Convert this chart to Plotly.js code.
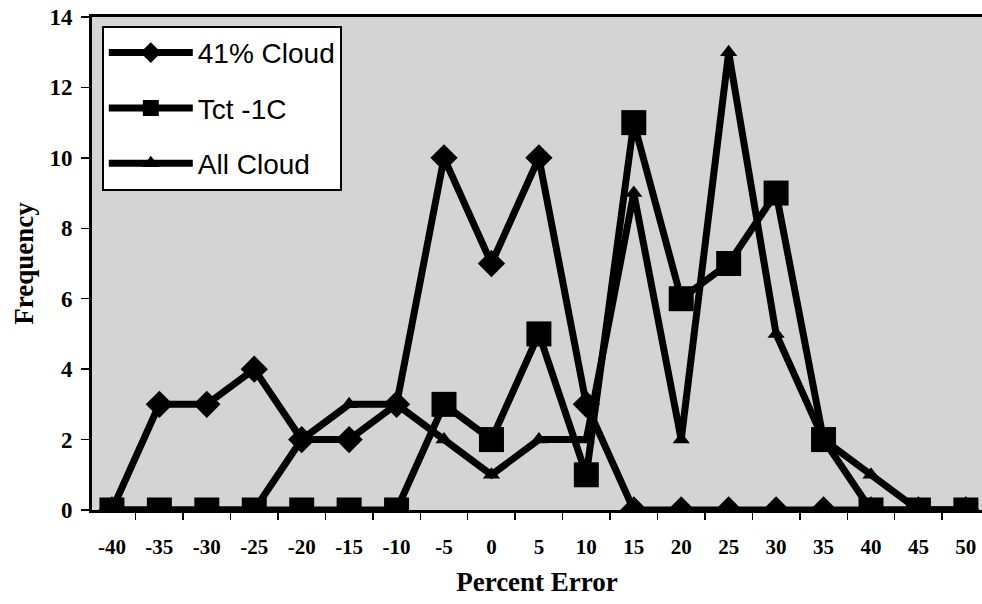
<!DOCTYPE html>
<html>
<head>
<meta charset="utf-8">
<script src="https://cdn.plot.ly/plotly-3.0.1.min.js"></script>
<style>html,body{margin:0;padding:0;background:#fff;}#chart{width:982px;height:604px;}</style>
</head>
<body>
<div id="chart"></div>
<script>
const percentError = [-40,-35,-30,-25,-20,-15,-10,-5,0,5,10,15,20,25,30,35,40,45,50];
const cloud41 = [0,3,3,4,2,2,3,10,7,10,3,0,0,0,0,0,0,0,0];
const tct1C   = [0,0,0,0,0,0,0,3,2,5,1,11,6,7,9,2,0,0,0];
const allCloud= [0,0,0,0,2,3,3,2,1,2,2,9,2,13,5,2,1,0,0];
const seriesNames = ['41% Cloud','Tct -1C','All Cloud'];
const yTicks = [0,2,4,6,8,10,12,14];

const lineW = 7;
const traces = [
  {x: percentError, y: cloud41, name: seriesNames[0], mode:'lines+markers', legendrank:1, legendgroup:'a',
   line:{color:'#000', width:lineW}, marker:{symbol:'diamond', size:21, color:'#000'}},
  {x: percentError, y: allCloud, name: seriesNames[2], mode:'lines+markers', legendrank:3, legendgroup:'c',
   line:{color:'#000', width:lineW}, marker:{symbol:'triangle-up', size:15, color:'#000'}},
  {x: percentError, y: tct1C, name: seriesNames[1], mode:'lines+markers', legendrank:2, legendgroup:'b',
   line:{color:'#000', width:lineW}, marker:{symbol:'square', size:25, color:'#000'}}
];

const serif = 'Liberation Serif, Times New Roman, serif';
const layout = {
  width: 982, height: 604,
  margin: {l: 92, r: 0, t: 17, b: 94},
  paper_bgcolor: '#fff',
  plot_bgcolor: '#d4d4d4',
  showlegend: true,
  legend: {
    x: 0.011, y: 0.982, xanchor: 'left', yanchor: 'top',
    bgcolor: '#fff', bordercolor: '#000', borderwidth: 2,
    font: {family: 'Liberation Sans, Arial, sans-serif', size: 28, color: '#000'},
    tracegroupgap: 16, itemwidth: 84, itemsizing: 'trace'
  },
  xaxis: {
    range: [-42.1, 51.7],
    tickvals: percentError,
    ticktext: percentError.map(String),
    ticks: '', showgrid: false, zeroline: false,
    showline: true, linecolor: '#000', linewidth: 3, mirror: true,
    ticklabelstandoff: 16,
    tickfont: {family: serif, size: 21, color: '#000', weight: 'bold'},
    minor: {tick0: -37.5, dtick: 5, ticks: 'outside', ticklen: 7, tickwidth: 1.5, tickcolor: '#000', showgrid: false},
    title: {text: 'Percent Error', standoff: 14,
      font: {family: serif, size: 27, color: '#000', weight: 'bold'}}
  },
  yaxis: {
    range: [0, 14],
    tickvals: yTicks,
    ticks: 'outside', ticklen: 8, tickwidth: 1.5, tickcolor: '#000',
    showgrid: false, zeroline: false,
    showline: true, linecolor: '#000', linewidth: 3,
    ticklabelstandoff: 4,
    tickfont: {family: serif, size: 23, color: '#000', weight: 'bold'},
    title: {text: 'Frequency', standoff: 8,
      font: {family: serif, size: 27, color: '#000', weight: 'bold'}}
  }
};

Plotly.newPlot('chart', traces, layout, {displayModeBar: false, staticPlot: true});
</script>
</body>
</html>
